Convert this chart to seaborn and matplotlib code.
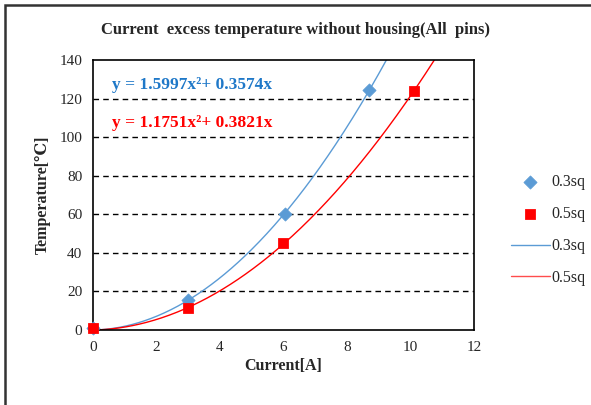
import numpy as np
import pandas as pd
import seaborn as sns
import matplotlib.pyplot as plt
from matplotlib.patches import Rectangle

# measured points
current_03 = [0.0, 3.0, 6.05, 8.7]
temp_03 = [1.0, 15.5, 60.0, 124.5]
current_05 = [0.0, 3.0, 6.0, 10.1]
temp_05 = [1.0, 11.5, 45.0, 124.0]

# trendline coefficients (x^2, x) as printed on the chart
coef_03 = [1.5997, 0.3574]
coef_05 = [1.1751, 0.3821]

yticks = [0, 20, 40, 60, 80, 100, 120, 140]
xticks = [0, 2, 4, 6, 8, 10, 12]

blue = "#5B9BD5"
red = "#FF0000"

sns.set_style("white")
plt.rcParams['font.family'] = ['Liberation Serif', 'DejaVu Serif']

fig = plt.figure(figsize=(5.91, 4.05), dpi=100)
ax = fig.add_axes([0.157, 0.185, 0.645, 0.667])

# trend curves
xs = np.linspace(0, 12, 400)
trend_03 = pd.DataFrame({"x": xs, "y": coef_03[0] * xs**2 + coef_03[1] * xs})
trend_05 = pd.DataFrame({"x": xs, "y": coef_05[0] * xs**2 + coef_05[1] * xs})

sns.lineplot(data=trend_03, x="x", y="y", ax=ax, color=blue, lw=1.0, label="0.3sq", zorder=2)
sns.lineplot(data=trend_05, x="x", y="y", ax=ax, color=red, lw=1.0, label="0.5sq", zorder=2)

sns.scatterplot(x=current_03, y=temp_03, ax=ax, marker="D", s=45, color=blue,
                edgecolor=blue, label="0.3sq", zorder=3)
sns.scatterplot(x=current_05, y=temp_05, ax=ax, marker="s", s=50, color=red,
                edgecolor=red, label="0.5sq", zorder=4)
for coll in ax.collections:
    coll.set_clip_on(False)

ax.set_xlim(0, 12)
ax.set_ylim(0, 140)
ax.set_xticks(xticks)
ax.set_yticks(yticks)
ax.tick_params(axis="y", length=4, width=1, direction="out", labelsize=11, color="black")
ax.tick_params(axis="x", length=0, labelsize=11, pad=8)

for y in yticks[1:-1]:
    ax.axhline(y, color="black", lw=1.0, ls=(0, (4, 3)), zorder=1)

for s in ax.spines.values():
    s.set_color("black")
    s.set_linewidth(1.2)

ax.set_xlabel("Current[A]", fontsize=11.5, fontweight="bold", labelpad=3)
ax.set_ylabel("Temperature[\u2103]", fontsize=11.5, fontweight="bold", labelpad=6)
fig.text(0.5, 0.925, "Current  excess temperature without housing(All  pins)",
         ha="center", va="center", fontsize=12, fontweight="bold")

ax.text(0.6, 127, "y = 1.5997x\u00b2+ 0.3574x", color="#1F78C8",
        fontsize=12.5, fontweight="bold", va="center")
ax.text(0.6, 107.5, "y = 1.1751x\u00b2+ 0.3821x", color=red,
        fontsize=12.5, fontweight="bold", va="center")

# legend order: markers first, then lines
h, l = ax.get_legend_handles_labels()
order = [2, 3, 0, 1]
leg = ax.legend([h[i] for i in order], [l[i] for i in order], loc="center left",
                bbox_to_anchor=(1.06, 0.37), frameon=False, fontsize=11.5,
                handlelength=2.4, labelspacing=1.0, handletextpad=0.1)
leg.get_lines()[-1].set_alpha(0.7) if len(leg.get_lines()) else None

# outer frame: only left and top edges fall inside the picture
fig.patches.append(Rectangle((0.009, -0.1), 1.2, 1.087, transform=fig.transFigure,
                             fill=False, edgecolor="#333333", lw=1.8))

fig.savefig("out.png", dpi=100)
